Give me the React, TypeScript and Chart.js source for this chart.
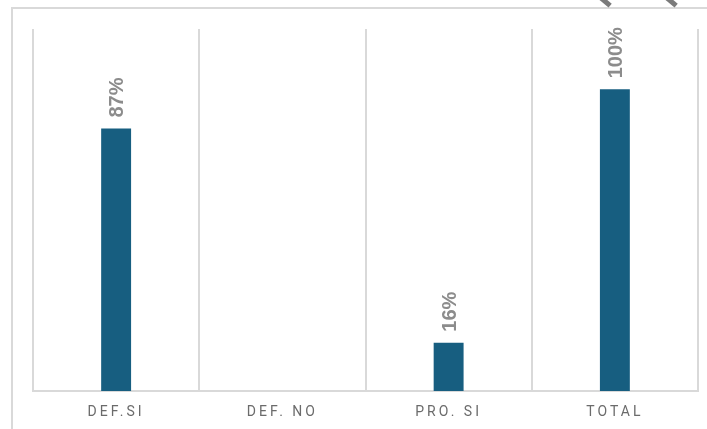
import { useEffect, useRef } from "react";
import { Chart, registerables } from "chart.js";

Chart.register(...registerables);

const categories = ["DEF.SI", "DEF. NO", "PRO. SI", "TOTAL"];
const values: (number | null)[] = [87, null, 16, 100];
const valueLabels = ["87%", "", "16%", "100%"];

const barColor = "#175e80";
const gridColor = "#d9d9d9";

// spaced-out category labels: letterSpacing on for the axes, off again for the bars
const spacingPlugin = {
  id: "spacing",
  beforeDraw: (chart: Chart) => {
    (chart.ctx as any).letterSpacing = "3px";
  },
  beforeDatasetsDraw: (chart: Chart) => {
    (chart.ctx as any).letterSpacing = "0px";
  },
};

// rotated value labels above each bar
const valueLabelPlugin = {
  id: "valueLabels",
  afterDatasetsDraw: (chart: Chart) => {
    const ctx = chart.ctx;
    const meta = chart.getDatasetMeta(0);
    ctx.save();
    ctx.font = "bold 20px 'Liberation Sans', Arial, sans-serif";
    ctx.fillStyle = "#8c8c8c";
    ctx.textAlign = "left";
    ctx.textBaseline = "alphabetic";
    meta.data.forEach((bar: any, i: number) => {
      if (values[i] == null || !valueLabels[i]) return;
      ctx.save();
      ctx.translate(bar.x + 7, bar.y - 11);
      ctx.rotate(-Math.PI / 2);
      ctx.fillText(valueLabels[i], 0, 0);
      ctx.restore();
    });
    ctx.restore();
  },
};

const App = () => {
  const canvasRef = useRef<HTMLCanvasElement>(null);

  useEffect(() => {
    if (!canvasRef.current) return;
    const ctx = canvasRef.current.getContext("2d");

    const myChart = new Chart(ctx!, {
      type: "bar",
      data: {
        labels: categories,
        datasets: [
          {
            data: values,
            backgroundColor: barColor,
            categoryPercentage: 1,
            barPercentage: 0.18,
          },
        ],
      },
      options: {
        animation: false,
        responsive: false,
        layout: { padding: { left: 33, right: 9, top: 29, bottom: 0 } },
        plugins: {
          legend: { display: false },
          tooltip: { enabled: false },
        },
        scales: {
          x: {
            afterFit: (scale: any) => {
              scale.height = 38;
            },
            grid: {
              color: gridColor,
              lineWidth: 2,
              drawTicks: false,
              offset: true,
            },
            border: { display: true, color: gridColor, width: 2 },
            ticks: {
              padding: 13,
              color: "#6b6b6b",
              font: { family: "Roboto, 'Liberation Sans', Arial, sans-serif", size: 14 },
            },
          },
          y: {
            display: false,
            min: 0,
            max: 120,
          },
        },
      },
      plugins: [spacingPlugin, valueLabelPlugin],
    });

    return () => {
      myChart.destroy();
    };
  }, []);

  const dash = (left: number) => (
    <div
      style={{
        position: "absolute",
        left,
        top: -2,
        width: 16,
        height: 5,
        background: "#7a7a7a",
        transform: "rotate(40deg)",
      }}
    />
  );

  return (
    <div
      style={{
        position: "absolute",
        left: 0,
        top: 0,
        width: 707,
        height: 429,
        overflow: "hidden",
        background: "#fff",
      }}
    >
      <div
        style={{
          position: "absolute",
          left: 11,
          top: 7,
          right: 0,
          bottom: 0,
          borderLeft: `2px solid ${gridColor}`,
          borderTop: `2px solid ${gridColor}`,
        }}
      />
      {dash(596)}
      {dash(662)}
      <canvas
        ref={canvasRef}
        width={707}
        height={429}
        style={{ position: "absolute", left: 0, top: 0 }}
      ></canvas>
    </div>
  );
};

export default App;
